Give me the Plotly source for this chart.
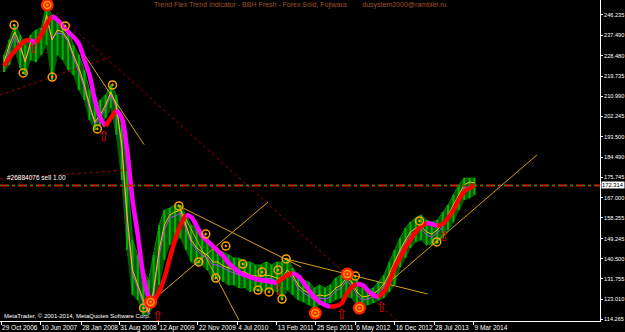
import plotly.graph_objects as go
import pandas as pd

# ---------------- data ----------------
months = pd.date_range("2006-11-01", "2014-03-01", freq="MS") + pd.Timedelta(days=14)

high = [228.9, 235.4,
        241.9, 237.6, 233.2, 237.6, 239.7, 240.6, 250.6, 246.2, 244.1, 241.9, 239.7, 233.2,
        228.9, 222.4, 213.7, 207.2, 209.4, 211.5, 215.9, 211.5, 198.5, 179.0, 148.6, 142.1,
        135.6, 131.3, 142.1, 155.1, 161.6, 162.5, 163.8, 163.8, 159.5, 155.1, 153.8, 152.1,
        149.5, 146.5, 144.3, 143.4, 142.1, 140.8, 140.8, 139.1, 139.1, 137.8, 137.8, 139.1,
        137.8, 139.1, 139.1, 140.8, 136.5, 133.4, 131.3, 130.4, 127.8, 129.1, 127.8, 129.1,
        132.1, 133.4, 136.5, 134.7, 131.3, 127.8, 126.9, 127.8, 130.4, 133.4, 139.1, 144.3,
        149.5, 153.8, 156.4, 158.2, 159.5, 157.3, 156.4, 157.3, 160.8, 163.8, 168.2, 172.5,
        175.5, 175.5, 175.5]
low = [221.5, 224.5,
       231.0, 223.2, 220.2, 226.7, 225.8, 228.9, 233.2, 218.0, 228.9, 226.7, 222.4, 220.2,
       213.7, 209.4, 200.7, 196.3, 198.5, 201.5, 205.9, 194.2, 174.6, 144.3, 124.8, 122.6,
       116.1, 116.1, 120.4, 129.1, 140.0, 146.5, 148.6, 149.5, 144.3, 139.1, 137.8, 137.8,
       135.6, 131.3, 132.1, 130.4, 129.1, 129.1, 127.8, 127.8, 126.1, 126.9, 126.1, 126.9,
       126.9, 126.1, 122.6, 126.9, 124.8, 122.6, 121.7, 120.4, 119.1, 120.4, 120.4, 121.3,
       122.6, 123.5, 124.1, 123.5, 120.4, 120.0, 120.4, 121.3, 122.6, 123.5, 126.1, 129.1,
       136.7, 140.8, 145.2, 147.8, 148.6, 146.5, 146.5, 146.9, 149.5, 153.0, 156.4, 161.6,
       166.0, 166.8, 168.2]
trend = [224.1, 227.6,
         230.6, 233.2, 235.0, 235.4, 234.1, 237.6, 242.3, 245.8, 244.1, 241.5, 238.9, 236.7,
         233.7, 226.7, 220.2, 209.4, 201.6, 198.1, 201.6, 205.0, 201.6, 187.7, 166.0, 150.8,
         133.5, 123.9, 121.7, 126.1, 132.1, 140.8, 148.6, 155.1, 159.5, 158.6, 154.7, 150.4,
         148.2, 146.0, 143.9, 141.7, 138.7, 136.5, 134.7, 133.4, 132.6, 131.7, 131.3, 130.8,
         130.4, 130.0, 131.7, 133.4, 134.3, 133.0, 130.4, 126.9, 123.9, 121.7, 120.4, 119.6,
         120.0, 120.9, 124.8, 128.2, 129.5, 129.1, 126.9, 124.8, 123.9, 126.1, 130.4, 136.5,
         140.8, 145.2, 148.6, 152.1, 154.7, 156.0, 155.6, 154.7, 155.6, 158.2, 161.6, 166.0,
         169.5, 171.2, 172.5]
fast_yellow = [225.8, 233.2,
               238.9, 233.2, 225.8, 234.5, 235.4, 237.6, 246.2, 235.4, 239.7, 238.9, 235.4, 228.9,
               223.2, 215.9, 207.2, 199.8, 202.9, 207.2, 212.8, 207.2, 189.8, 159.5, 135.6, 129.1,
               122.6, 117.4, 126.9, 144.3, 155.1, 159.5, 160.8, 161.6, 155.1, 148.6, 145.2, 143.4,
               142.1, 139.1, 139.1, 137.4, 136.5, 135.6, 134.8, 134.8, 133.4, 133.0, 133.0, 133.4,
               133.0, 132.1, 132.1, 135.6, 133.4, 129.1, 126.9, 125.6, 123.9, 124.8, 124.3, 125.2,
               127.8, 129.1, 132.1, 130.4, 126.1, 123.9, 124.3, 125.2, 126.9, 129.5, 133.9, 139.1,
               144.3, 148.6, 152.1, 153.8, 154.7, 152.1, 151.2, 153.0, 155.6, 159.5, 163.8, 168.2,
               172.5, 173.8, 173.4]
fast_purple = [224.1, 231.1,
               237.1, 231.9, 226.7, 232.8, 234.5, 236.3, 244.1, 236.3, 238.4, 238.0, 234.5, 227.6,
               221.5, 214.6, 205.9, 199.0, 201.6, 205.9, 211.5, 205.9, 187.7, 156.4, 133.9, 127.8,
               121.3, 116.5, 125.2, 141.7, 153.0, 158.2, 159.0, 160.3, 153.8, 147.3, 144.3, 142.1,
               140.8, 137.8, 137.8, 136.5, 135.2, 134.3, 133.4, 133.4, 132.1, 131.7, 131.7, 132.1,
               131.7, 130.8, 130.8, 133.9, 132.1, 127.8, 125.6, 124.3, 122.6, 123.5, 123.0, 123.9,
               126.5, 127.8, 130.8, 129.1, 124.8, 122.6, 123.0, 123.9, 125.6, 128.2, 132.6, 137.8,
               143.0, 147.3, 150.8, 152.5, 153.4, 150.8, 149.9, 151.7, 154.3, 158.2, 162.5, 166.9,
               171.2, 172.1, 172.1]

fractal_dates = ["2007-01-11", "2007-03-04", "2007-08-16", "2007-10-29", "2008-04-29", "2008-07-24",
                 "2009-01-17", "2009-08-06", "2009-11-27", "2010-01-06", "2010-03-04", "2010-04-30",
                 "2010-08-05", "2010-10-30", "2010-11-22", "2011-01-01", "2011-02-21", "2011-03-16",
                 "2011-04-08", "2012-05-06", "2013-05-06", "2013-08-12"]
fractal_prices = [241.9, 221.1, 219.3, 241.5, 196.8, 215.9,
                  119.1, 163.4, 139.1, 151.2, 132.1, 146.0,
                  138.2, 126.9, 134.7, 126.1, 135.6, 123.0,
                  140.4, 133.0, 156.9, 147.8]

big_dates = ["2007-07-19", "2009-02-26", "2011-09-21", "2012-03-21", "2012-05-29"]
big_prices = [250.6, 121.7, 116.9, 133.9, 119.1]

arrow_dates = ["2007-04-30", "2008-06-03", "2009-04-05", "2011-02-21", "2012-02-16", "2012-10-01", "2013-09-21"]
arrow_prices = [231.1, 192.9, 114.8, 126.1, 115.7, 119.1, 149.5]

# trend lines: (date1, price1, date2, price2)
yellow_lines = [
    ("2009-02-26", 121.7, "2010-12-26", 165.1),
    ("2011-04-08", 140.4, "2013-06-21", 125.2),
    ("2012-10-01", 127.4, "2015-03-05", 185.5),
    ("2007-10-29", 241.5, "2009-01-20", 190.0),
    ("2009-08-06", 163.4, "2010-07-13", 113.9),
    ("2009-08-06", 163.4, "2011-07-03", 136.9),
]
red_dotted_lines = [
    ("2007-07-19", 250.6, "2012-12-26", 113.9),
    ("2006-10-23", 211.5, "2008-07-12", 228.0),
    ("2006-10-23", 175.1, "2008-10-18", 179.0),
]

order_price = 172.314
order_label = "#26884076 sell 1.00"
y_ticks = [246.235, 237.490, 228.480, 219.735, 210.990, 202.245, 193.500, 184.490,
           175.745, 167.000, 158.255, 149.245, 140.500, 131.755, 123.010, 114.265]
x_tick_dates = ["2006-10-29", "2007-06-10", "2008-01-28", "2008-08-31", "2009-04-12", "2009-11-22",
                "2010-07-04", "2011-02-13", "2011-09-25", "2012-05-06", "2012-12-16", "2013-07-28",
                "2014-03-09"]
x_tick_text = ["29 Oct 2006", "10 Jun 2007", "28 Jan 2008", "31 Aug 2008", "12 Apr 2009", "22 Nov 2009",
               "4 Jul 2010", "13 Feb 2011", "25 Sep 2011", "6 May 2012", "16 Dec 2012", "28 Jul 2013",
               "9 Mar 2014"]
title_text = "Trend Flex Trend Indicator - BBH Fresh - Forex Sold, Fujiwara        dusystem2000@rambler.ru"
copyright_text = "MetaTrader, © 2001-2014, MetaQuotes Software Corp."

# ---------------- figure ----------------
FONT = "Liberation Sans"
fig = go.Figure()

# price band
fig.add_trace(go.Scatter(x=months, y=low, mode="lines", line=dict(color="#006000", width=1),
                         hoverinfo="skip", showlegend=False))
fig.add_trace(go.Scatter(x=months, y=high, mode="lines", line=dict(color="#008a00", width=1),
                         fill="tonexty", fillcolor="#005c00", hoverinfo="skip", showlegend=False))
bx, by = [], []
for d, h, l in zip(months, high, low):
    bx += [d, d, None]
    by += [l, h, None]
fig.add_trace(go.Scatter(x=bx, y=by, mode="lines", line=dict(color="#00b400", width=2),
                         hoverinfo="skip", showlegend=False))

# order line
fig.add_shape(type="line", xref="paper", x0=0, x1=1, y0=order_price, y1=order_price,
              line=dict(color="#ff0000", width=2, dash="dashdot"))
fig.add_shape(type="line", xref="paper", x0=0, x1=1, y0=order_price, y1=order_price,
              line=dict(color="#00a000", width=1, dash="dot"))

# trend lines
for d1, p1, d2, p2 in yellow_lines:
    fig.add_trace(go.Scatter(x=[d1, d2], y=[p1, p2], mode="lines",
                             line=dict(color="#d4a017", width=1), hoverinfo="skip", showlegend=False))
for d1, p1, d2, p2 in red_dotted_lines:
    fig.add_trace(go.Scatter(x=[d1, d2], y=[p1, p2], mode="lines",
                             line=dict(color="#a00000", width=1, dash="dot"), hoverinfo="skip", showlegend=False))

# thin lines
fig.add_trace(go.Scatter(x=months, y=fast_purple, mode="lines", line=dict(color="#c040ff", width=1),
                         hoverinfo="skip", showlegend=False))
fig.add_trace(go.Scatter(x=months, y=fast_yellow, mode="lines", line=dict(color="#ffc000", width=1),
                         hoverinfo="skip", showlegend=False))

# thick trend line, red when rising, magenta when falling
segs = []
cur_col, cur_x, cur_y = None, [], []
for i in range(len(trend) - 1):
    col = "#ff0000" if trend[i + 1] >= trend[i] else "#ff00ff"
    if col != cur_col:
        if cur_col is not None:
            segs.append((cur_col, cur_x, cur_y))
        cur_col, cur_x, cur_y = col, [months[i]], [trend[i]]
    cur_x.append(months[i + 1])
    cur_y.append(trend[i + 1])
segs.append((cur_col, cur_x, cur_y))
for col, xs, ys in segs:
    fig.add_trace(go.Scatter(x=xs, y=ys, mode="lines", line=dict(color=col, width=4.5, shape="spline"),
                             hoverinfo="skip", showlegend=False))

# markers
fig.add_trace(go.Scatter(x=fractal_dates, y=fractal_prices, mode="markers",
                         marker=dict(symbol="circle-open-dot", size=8, color="#ffa000", line=dict(width=1.5)),
                         hoverinfo="skip", showlegend=False))
fig.add_trace(go.Scatter(x=big_dates, y=big_prices, mode="markers",
                         marker=dict(symbol="circle", size=13, color="#ff2000"),
                         hoverinfo="skip", showlegend=False))
fig.add_trace(go.Scatter(x=big_dates, y=big_prices, mode="markers",
                         marker=dict(symbol="circle-open-dot", size=7, color="#ffa000", line=dict(width=1.5)),
                         hoverinfo="skip", showlegend=False))
fig.add_trace(go.Scatter(x=arrow_dates, y=arrow_prices, mode="text", text=["⇧"] * len(arrow_dates),
                         textfont=dict(family="DejaVu Sans", size=14, color="#e00000"),
                         hoverinfo="skip", showlegend=False))

# texts
fig.add_annotation(xref="paper", yref="y", x=0.008, y=order_price, yshift=2, xanchor="left", yanchor="bottom",
                   text=order_label, showarrow=False, font=dict(family=FONT, size=6.5, color="white"))
fig.add_annotation(xref="paper", yref="y", x=1.0, y=order_price, xanchor="left", xshift=1,
                   text="%.3f" % order_price, showarrow=False, bgcolor="white", borderpad=0,
                   font=dict(family=FONT, size=5.8, color="black"))
fig.add_annotation(xref="paper", yref="paper", x=0.5, y=1, yanchor="top", yshift=1,
                   text=title_text, showarrow=False, font=dict(family=FONT, size=7, color="#a0522d"))
fig.add_annotation(xref="paper", yref="paper", x=0.004, y=0, xanchor="left", yanchor="bottom", yshift=0,
                   text=copyright_text, showarrow=False, font=dict(family=FONT, size=6, color="white"))

fig.update_layout(
    width=625, height=332,
    margin=dict(l=0, r=25, t=0, b=11),
    paper_bgcolor="black", plot_bgcolor="black",
    showlegend=False,
    xaxis=dict(type="date", range=["2006-10-23", "2016-02-27"], showgrid=False, zeroline=False,
               tickvals=x_tick_dates, ticktext=x_tick_text, ticks="outside", ticklen=3, tickcolor="white",
               ticklabelposition="outside right", tickangle=0, automargin=False,
               tickfont=dict(family=FONT, size=6.5, color="white"),
               showline=True, linecolor="white", linewidth=1, mirror=True),
    yaxis=dict(range=[113.48, 252.74], side="right", showgrid=False, zeroline=False, automargin=False,
               tickvals=y_ticks, ticktext=["%.3f" % v for v in y_ticks], ticks="outside", ticklen=2,
               tickcolor="white", tickfont=dict(family=FONT, size=5.6, color="white"),
               showline=True, linecolor="white", linewidth=1, mirror=True),
)

fig.write_html("out.html")
